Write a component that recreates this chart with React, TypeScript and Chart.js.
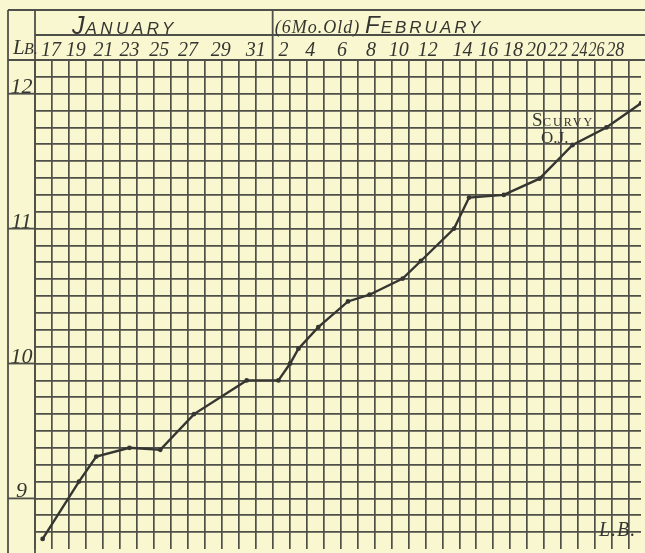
import React, { useEffect, useRef } from 'react';
import { Chart, registerables } from 'chart.js';

Chart.register(...registerables);

// Day labels along the top row and the grid column (square) each is written over
const dateLabels = ['17', '19', '21', '23', '25', '27', '29', '31', '2', '4', '6', '8', '10', '12', '14', '16', '18', '20', '22', '24', '26', '28'];
const dateLabelColumns = [0.94, 2.4, 4.04, 5.56, 7.32, 9.02, 10.95, 13.0, 14.64, 16.22, 18.09, 19.79, 21.43, 23.13, 25.18, 26.7, 28.16, 29.51, 30.8, 32.08, 33.08, 34.19];

// Weighings: grid column (time) and weight in pounds
const weighingColumns = [0.45, 2.59, 3.61, 5.56, 7.38, 9.37, 12.47, 14.34, 15.03, 15.52, 16.69, 18.44, 19.71, 21.66, 22.73, 24.69, 25.57, 27.62, 29.72, 31.67, 33.66, 35.7];
const weightsLb = [8.7, 9.125, 9.31, 9.375, 9.36, 9.625, 9.875, 9.875, 10.0, 10.11, 10.27, 10.46, 10.51, 10.63, 10.76, 11.0, 11.23, 11.25, 11.37, 11.62, 11.75, 11.93];

// Pound labels in the left column
const poundTicks = [9, 10, 11, 12];

// Month header: month names and the grid column where February starts
const monthHeaders = ['JANUARY', 'FEBRUARY'];
const februaryStartColumn = 14;

const PAPER = '#f9f7cf';
const INK = '#353531';
const GRID = '#4f4f49';

export default function App() {
  const ref = useRef<HTMLCanvasElement | null>(null);

  useEffect(() => {
    const canvas = ref.current;
    if (!canvas) return;

    const drawSmallCaps = (ctx: CanvasRenderingContext2D, word: string, x: number, y: number, big: string, small: string, spacing: string) => {
      ctx.font = big;
      (ctx as any).letterSpacing = '0px';
      ctx.fillText(word[0], x, y);
      const w = ctx.measureText(word[0]).width;
      ctx.font = small;
      (ctx as any).letterSpacing = spacing;
      ctx.fillText(word.slice(1), x + w + 1, y);
      (ctx as any).letterSpacing = '0px';
    };

    const paperPlugin = {
      id: 'paper',
      beforeDraw(chart: any) {
        const ctx = chart.ctx as CanvasRenderingContext2D;
        ctx.save();
        ctx.fillStyle = PAPER;
        ctx.fillRect(0, 0, chart.width, chart.height);
        ctx.restore();
      },
      afterDraw(chart: any) {
        const ctx = chart.ctx as CanvasRenderingContext2D;
        const xs = chart.scales.x;
        const ys = chart.scales.y;
        const ca = chart.chartArea;
        const W = chart.width;
        const H = chart.height;
        ctx.save();
        ctx.strokeStyle = GRID;
        ctx.lineWidth = 1.8;
        ctx.lineCap = 'butt';
        const line = (x1: number, y1: number, x2: number, y2: number) => {
          ctx.beginPath();
          ctx.moveTo(x1, y1);
          ctx.lineTo(x2, y2);
          ctx.stroke();
        };
        const leftEdge = 8;
        const topEdge = 10;
        const monthRow = 35;
        line(leftEdge, topEdge, W, topEdge);
        line(ca.left, monthRow, W, monthRow);
        line(leftEdge, ca.top, W, ca.top);
        line(leftEdge, topEdge, leftEdge, H);
        line(ca.left, topEdge, ca.left, H);
        const febX = xs.getPixelForValue(februaryStartColumn);
        line(febX, topEdge, febX, ca.top);
        poundTicks.forEach((v) => {
          const py = ys.getPixelForValue(v);
          line(leftEdge, py, ca.left, py);
        });

        ctx.fillStyle = INK;
        ctx.textBaseline = 'alphabetic';
        // Month header
        ctx.textAlign = 'left';
        drawSmallCaps(ctx, monthHeaders[0], 72, 34, "italic 25px 'Liberation Sans'", "italic 17px 'Liberation Sans'", '3.5px');
        ctx.font = "italic 18px 'Liberation Serif'";
        (ctx as any).letterSpacing = '1px';
        ctx.fillText('(6Mo.Old)', febX + 2, 33);
        (ctx as any).letterSpacing = '0px';
        drawSmallCaps(ctx, monthHeaders[1], 365, 33, "italic 24px 'Liberation Sans'", "italic 17px 'Liberation Sans'", '3px');

        // LB cell
        ctx.font = "italic 21px 'Liberation Serif'";
        ctx.fillText('L', 13, 54);
        ctx.font = "italic 16px 'Liberation Serif'";
        ctx.fillText('B.', 24, 54);

        // Day labels
        ctx.textAlign = 'center';
        ctx.font = "italic 20px 'Liberation Serif'";
        dateLabels.forEach((t, i) => {
          const px = xs.getPixelForValue(dateLabelColumns[i]);
          const prev = i > 0 ? xs.getPixelForValue(dateLabelColumns[i - 1]) : px - 30;
          const next = i < dateLabels.length - 1 ? xs.getPixelForValue(dateLabelColumns[i + 1]) : px + 30;
          const maxW = Math.min(px - prev, next - px) - 1;
          ctx.fillText(t, px, 56, maxW);
        });

        // Pound labels
        ctx.font = "italic 22px 'Liberation Serif'";
        poundTicks.forEach((v) => {
          ctx.fillText(String(v), 21.5, ys.getPixelForValue(v) - 1);
        });

        // Annotation
        ctx.textAlign = 'left';
        ctx.font = "19px 'Liberation Serif'";
        ctx.fillText('S', 532, 126);
        ctx.font = "12px 'Liberation Serif'";
        (ctx as any).letterSpacing = '2px';
        ctx.fillText('CURVY', 543, 126);
        (ctx as any).letterSpacing = '0px';
        ctx.font = "17px 'Liberation Serif'";
        ctx.fillText('O.J.', 541, 143);

        // Corner unit
        ctx.font = "italic 20px 'Liberation Serif'";
        (ctx as any).letterSpacing = '1px';
        ctx.fillText('L.B.', 599, 536);
        (ctx as any).letterSpacing = '0px';
        ctx.restore();
      },
    };

    const gridColor = (c: any) => {
      const v = c.tick ? c.tick.value : null;
      if (v !== null && c.scale && c.scale.axis === 'y' && Math.abs(v - 8.625) < 1e-6) return 'rgba(0,0,0,0)';
      return GRID;
    };

    const chart = new Chart(canvas, {
      type: 'line',
      data: {
        datasets: [
          {
            data: weighingColumns.map((x, i) => ({ x, y: weightsLb[i] })),
            borderColor: INK,
            borderWidth: 2.4,
            pointRadius: 2.4,
            pointBackgroundColor: INK,
            pointBorderWidth: 0,
            tension: 0,
          },
        ],
      },
      options: {
        animation: false,
        responsive: false,
        maintainAspectRatio: false,
        layout: { padding: { left: 35, top: 60, right: 0, bottom: 0 } },
        plugins: { legend: { display: false }, tooltip: { enabled: false } },
        scales: {
          x: {
            type: 'linear',
            min: 0,
            max: 35.7,
            ticks: { display: false, stepSize: 1, includeBounds: false },
            grid: { color: gridColor, lineWidth: 1.7, drawTicks: false },
            border: { display: false },
          },
          y: {
            type: 'linear',
            min: 8.625,
            max: 12.25,
            ticks: { display: false, stepSize: 0.125, includeBounds: false },
            grid: { color: gridColor, lineWidth: 1.7, drawTicks: false },
            border: { display: false },
          },
        },
      },
      plugins: [paperPlugin],
    } as any);

    return () => chart.destroy();
  }, []);

  return (
    <div style={{ position: 'fixed', left: 0, top: 0, width: 645, height: 553, background: PAPER }}>
      <canvas ref={ref} width={645} height={553} style={{ display: 'block' }} />
    </div>
  );
}
